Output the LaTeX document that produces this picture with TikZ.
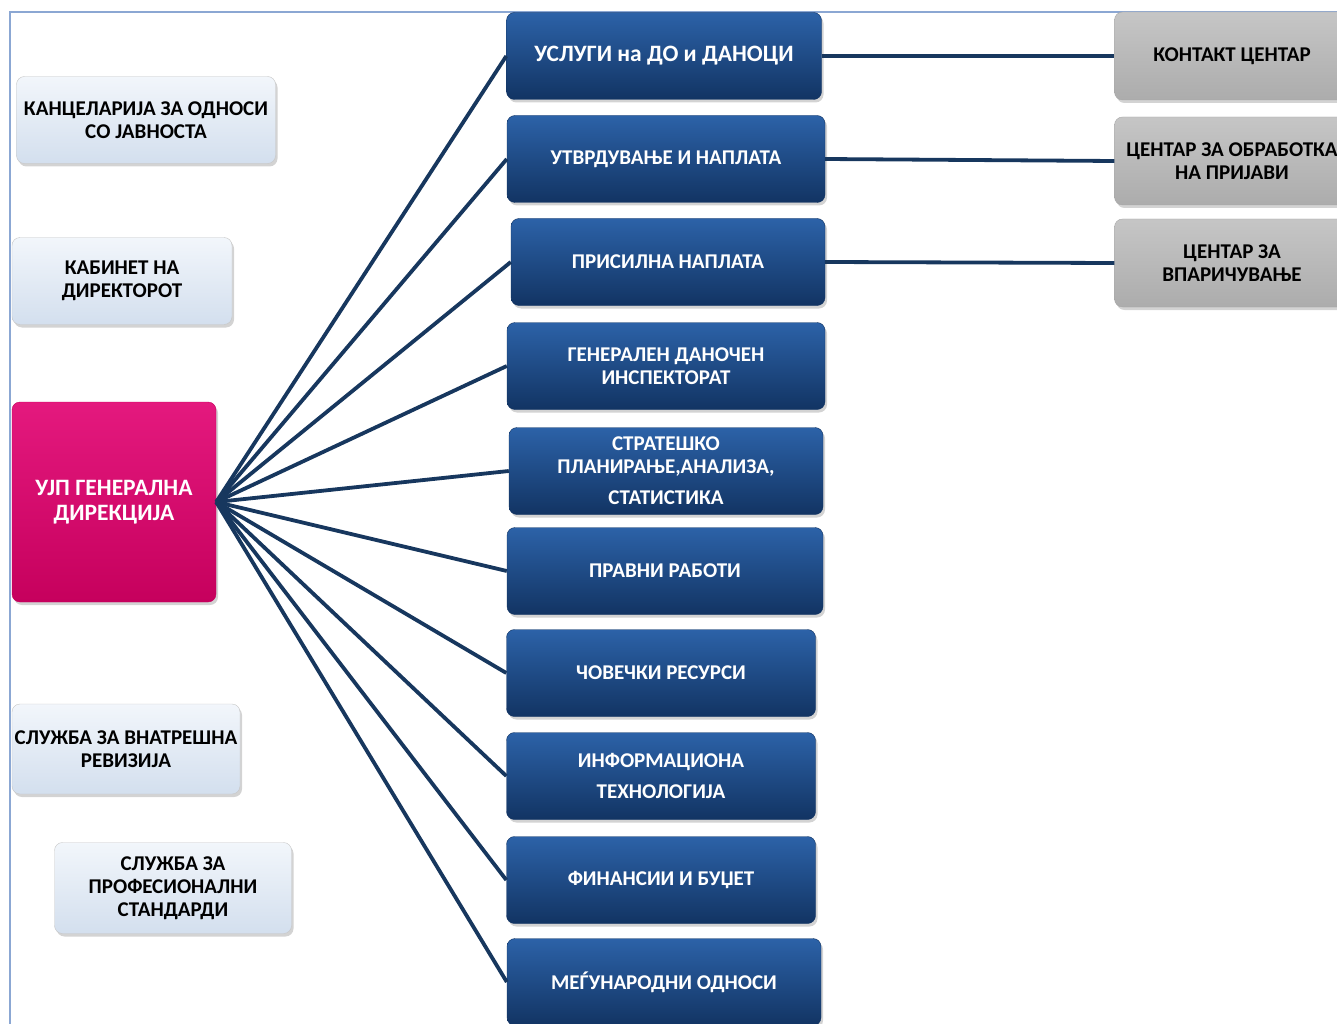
\documentclass[tikz,border=0pt]{standalone}
\usepackage{fontspec}
\setmainfont{Carlito}
\usetikzlibrary{shadows}
\definecolor{navy}{HTML}{17375E}
\definecolor{unittop}{HTML}{2C62A8}
\definecolor{unitmid}{HTML}{1C4A89}
\definecolor{unitbot}{HTML}{123463}
\definecolor{pinktop}{HTML}{E4197E}
\definecolor{pinkbot}{HTML}{C6005D}
\definecolor{stafftop}{HTML}{F2F6FB}
\definecolor{staffbot}{HTML}{D3DFEE}
\definecolor{framecol}{HTML}{8BA7D3}
\begin{document}
\begin{tikzpicture}[x=1pt, y=-1pt,
    every node/.style={rounded corners=8pt, align=center, inner sep=2pt,
        font=\bfseries\fontsize{21}{23}\selectfont,
        drop shadow={opacity=0.35, shadow xshift=2pt, shadow yshift=-3pt}},
    unit/.style={minimum height=87pt, text=white, draw=unitbot,
        top color=unittop, middle color=unitmid, bottom color=unitbot},
    staff/.style={minimum height=87pt, text=black, draw=gray!45,
        top color=stafftop, bottom color=staffbot},
    centre/.style={minimum height=88pt, minimum width=235pt, text=black, draw=gray!70,
        top color=gray!45, bottom color=gray!65},
    head/.style={minimum height=200pt, minimum width=204pt, text=white, draw=pinkbot,
        top color=pinktop, bottom color=pinkbot, font=\bfseries\fontsize{23.5}{25}\selectfont},
    link/.style={navy, line width=3.8pt}]
\useasboundingbox (0,0) rectangle (1337,1024);
\clip (0,0) rectangle (1337,1024);
\draw[framecol, line width=1.5pt] (10,1030) |- (1340,12);
    % left column
    \node[staff, minimum width=259pt] (s1) at (146,120) {КАНЦЕЛАРИЈА ЗА ОДНОСИ\\СО ЈАВНОСТА};
    \node[staff, minimum width=220pt] (s2) at (122,281) {КАБИНЕТ НА\\ДИРЕКТОРОТ};
    \node[head] (ujp) at (114,502) {УЈП ГЕНЕРАЛНА\\ДИРЕКЦИЈА};
    \node[staff, minimum width=228pt, minimum height=90pt] (s3) at (126,749) {СЛУЖБА ЗА ВНАТРЕШНА\\РЕВИЗИЈА};
    \node[staff, minimum width=237pt, minimum height=91pt] (s4) at (173,888) {СЛУЖБА ЗА\\ПРОФЕСИОНАЛНИ\\СТАНДАРДИ};
    % sectors
    \node[unit, minimum width=315pt, font=\bfseries\fontsize{23.5}{25}\selectfont] (u1) at (664,56) {УСЛУГИ на ДО и ДАНОЦИ};
    \node[unit, minimum width=318pt] (u2) at (666,159) {УТВРДУВАЊЕ И НАПЛАТА};
    \node[unit, minimum width=314pt] (u3) at (668,262) {ПРИСИЛНА НАПЛАТА};
    \node[unit, minimum width=318pt] (u4) at (666,366) {ГЕНЕРАЛЕН ДАНОЧЕН\\ИНСПЕКТОРАТ};
    \node[unit, minimum width=314pt] (u5) at (666,471) {СТРАТЕШКО\\ПЛАНИРАЊЕ,АНАЛИЗА,\\[8pt]СТАТИСТИКА};
    \node[unit, minimum width=316pt] (u6) at (665,571) {ПРАВНИ РАБОТИ};
    \node[unit, minimum width=309pt] (u7) at (661,673) {ЧОВЕЧКИ РЕСУРСИ};
    \node[unit, minimum width=309pt] (u8) at (661,776) {ИНФОРМАЦИОНА\\[8pt]ТЕХНОЛОГИЈА};
    \node[unit, minimum width=309pt] (u9) at (661,880) {ФИНАНСИИ И БУЏЕТ};
    \node[unit, minimum width=314pt] (u10) at (664,982) {МЕЃУНАРОДНИ ОДНОСИ};
    % centres
    \node[centre] (c1) at (1232,56) {КОНТАКТ ЦЕНТАР};
    \node[centre] (c2) at (1232,161) {ЦЕНТАР ЗА ОБРАБОТКА\\НА ПРИЈАВИ};
    \node[centre] (c3) at (1232,263) {ЦЕНТАР ЗА\\ВПАРИЧУВАЊЕ};
    \foreach \to in {u1, u2, u3, u4, u5, u6, u7, u8, u9, u10}
        \draw[link] (ujp.east) -- (\to.west);
    \foreach \from/\to in {u1/c1, u2/c2, u3/c3}
        \draw[link] (\from.east) -- (\to.west);
\end{tikzpicture}
\end{document}
